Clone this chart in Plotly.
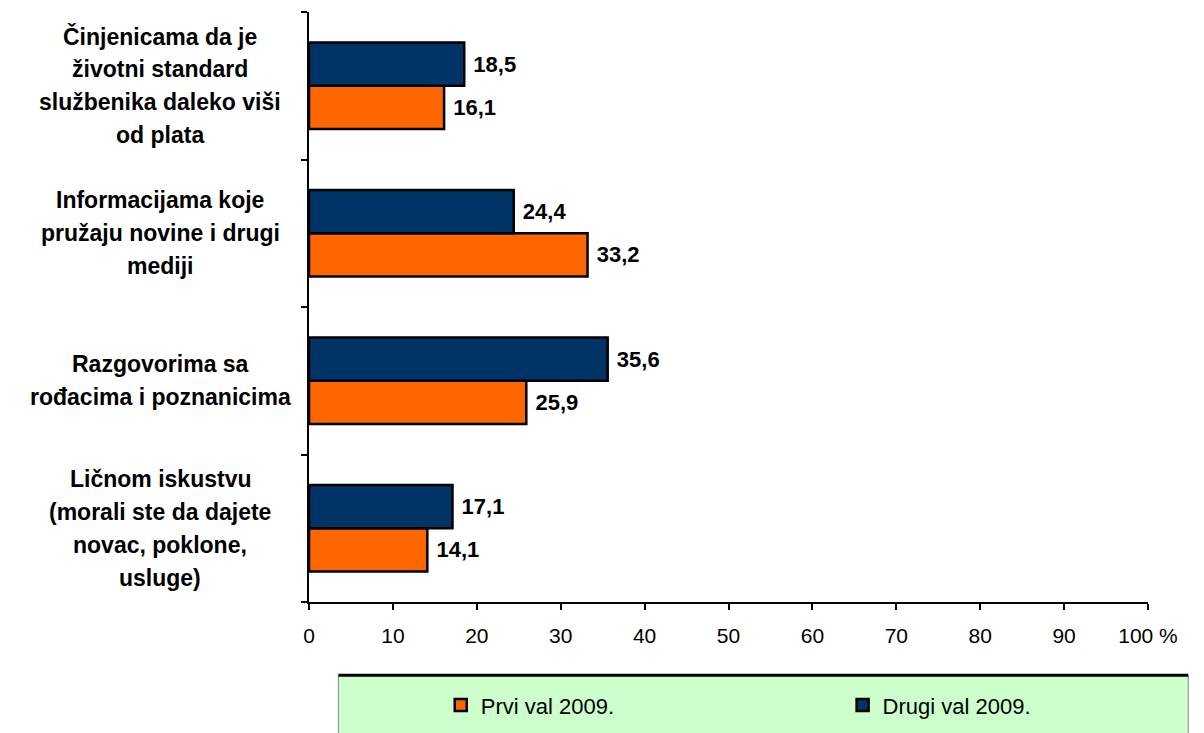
import plotly.graph_objects as go

# categories listed bottom -> top (plotly draws the first category at the bottom)
categories = ["licno", "razgovori", "mediji", "cinjenice"]
category_lines = [
    ["Ličnom iskustvu", "(morali ste da dajete", "novac, poklone,", "usluge)"],
    ["Razgovorima sa", "rođacima i poznanicima"],
    ["Informacijama koje", "pružaju novine i drugi", "mediji"],
    ["Činjenicama da je", "životni standard", "službenika daleko viši", "od plata"],
]
prvi_val = [14.1, 25.9, 33.2, 16.1]
drugi_val = [17.1, 35.6, 24.4, 18.5]
x_ticks = [0, 10, 20, 30, 40, 50, 60, 70, 80, 90, 100]
x_ticktext = ["0", "10", "20", "30", "40", "50", "60", "70", "80", "90", "100 %"]

NAVY = "#003366"
ORANGE = "#FF6600"
FONT = "Liberation Sans, Arial, sans-serif"

fig = go.Figure()
fig.add_trace(go.Bar(
    y=categories, x=prvi_val, orientation="h", name="Prvi val 2009.",
    marker=dict(color=ORANGE, line=dict(color="black", width=2.5)),
    texttemplate=" %{x:.1f}", textposition="outside", cliponaxis=False,
    textfont=dict(family=FONT, size=22, color="black", weight="bold"),
    legend="legend",
))
fig.add_trace(go.Bar(
    y=categories, x=drugi_val, orientation="h", name="Drugi val 2009.",
    marker=dict(color=NAVY, line=dict(color="black", width=2.5)),
    texttemplate=" %{x:.1f}", textposition="outside", cliponaxis=False,
    textfont=dict(family=FONT, size=22, color="black", weight="bold"),
    legend="legend2",
))

# category labels, centred, one annotation per line to get the wide line spacing
line_h = 33
for cat, lines in zip(categories, category_lines):
    n = len(lines)
    for i, txt in enumerate(lines):
        fig.add_annotation(
            x=-0.177, xref="paper", xanchor="center", y=cat, yref="y",
            yshift=((n - 1) / 2 - i) * line_h, text=txt, showarrow=False,
            font=dict(family=FONT, size=23, color="black", weight="bold"),
        )

# legend box
fig.add_shape(type="rect", xref="paper", yref="paper",
              x0=0.035, x1=1.048, y0=-0.26, y1=-0.124,
              fillcolor="#CCFFCC", line=dict(color="#888888", width=1), layer="below")
fig.add_shape(type="line", xref="paper", yref="paper",
              x0=0.035, x1=1.048, y0=-0.124, y1=-0.124,
              line=dict(color="black", width=3))

leg = dict(orientation="h", xanchor="left", y=-0.175, yanchor="middle",
           bgcolor="rgba(0,0,0,0)", font=dict(family=FONT, size=22, color="black"))

# page body has an 8px margin, so the figure is 8px smaller than the window
fig.update_layout(
    width=1196, height=725,
    margin=dict(l=301, r=56, t=4, b=131),
    paper_bgcolor="white", plot_bgcolor="white",
    barmode="group", bargap=0.415, bargroupgap=0,
    separators=", ",
    showlegend=True,
    legend=dict(leg, x=0.157),
    legend2=dict(leg, x=0.636),
    xaxis=dict(
        range=[0, 100], tickvals=x_ticks, ticktext=x_ticktext, automargin=False,
        showgrid=False, zeroline=False, showline=True, linecolor="black", linewidth=2,
        ticks="outside", ticklen=6, tickcolor="black", tickwidth=1.5,
        ticklabelstandoff=8,
        tickfont=dict(family=FONT, size=21, color="black"),
    ),
    yaxis=dict(
        range=[-0.5, 3.5], showticklabels=False, tickson="boundaries", automargin=False,
        showgrid=False, zeroline=False, showline=True, linecolor="black", linewidth=2,
        ticks="outside", ticklen=6, tickcolor="black", tickwidth=1.5,
    ),
)

fig.write_html("out.html")
